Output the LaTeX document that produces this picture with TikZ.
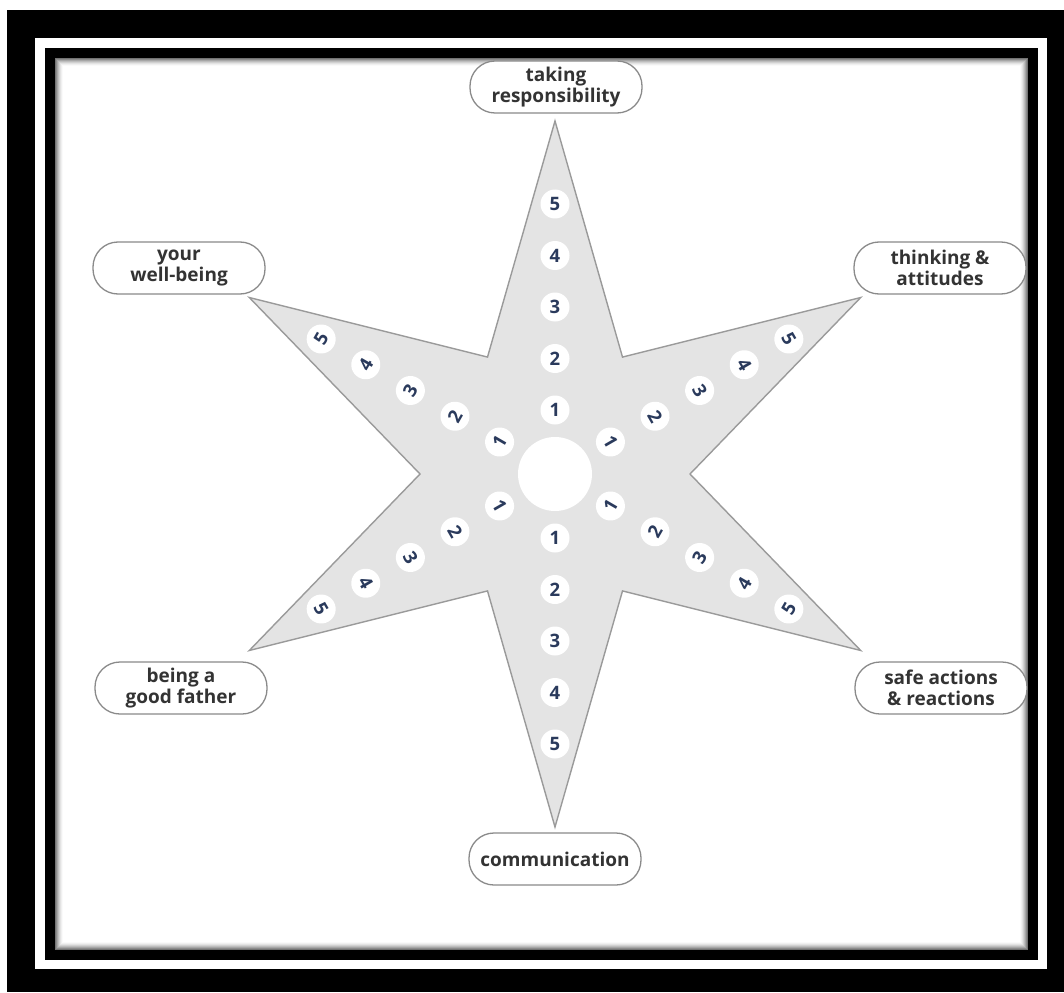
\documentclass[tikz,border=0pt]{standalone}
\usepackage{fontspec}
\setmainfont{Open Sans}
\usetikzlibrary{calc}
\definecolor{starfill}{HTML}{E4E4E4}
\definecolor{starline}{HTML}{9A9A9A}
\definecolor{pillline}{HTML}{8A8A8A}
\definecolor{labeltext}{HTML}{333333}
\definecolor{digitblue}{HTML}{2A3A5C}
\tikzset{
  pill/.style={draw=pillline, line width=1.3pt, fill=white, rounded corners=25pt,
    minimum width=172pt, minimum height=52pt, inner sep=0pt, align=center,
    text=labeltext, font=\fontsize{19}{20.5}\selectfont\bfseries},
  numc/.style={circle, fill=white, minimum size=29pt, inner sep=0pt,
    text=digitblue, font=\fontsize{18.5}{18.5}\selectfont\bfseries}
}
\begin{document}
\begin{tikzpicture}[x=1pt,y=1pt]
\useasboundingbox (0,0) rectangle (1064,-992);
% frame
\fill[white] (0,0) rectangle (1064,-992);
\fill[black] (7,-10) rectangle (1064,-992);
\fill[white] (35,-38) rectangle (1047,-969);
\fill[black] (45,-48) rectangle (1038,-960);
\fill[white] (55,-58) rectangle (1028,-950);
\foreach \i/\g in {0.5/45,1.5/55,2.5/65,3.5/74,4.5/82,5.5/89,6.5/94,7.5/98}{
  \draw[line width=1pt, black!\the\numexpr100-\g\relax] (55+\i,-58-\i) rectangle (1028-\i,-950+\i);
}
% star
\coordinate (C) at (555,-474);
\fill[starfill, draw=starline, line width=1.4pt, line join=miter]
  ($(C)+(90:353)$) -- ($(C)+(60:135)$) -- ($(C)+(30:353)$) -- ($(C)+(0:135)$)
  -- ($(C)+(-30:353)$) -- ($(C)+(-60:135)$) -- ($(C)+(-90:353)$) -- ($(C)+(-120:135)$)
  -- ($(C)+(-150:353)$) -- ($(C)+(180:135)$) -- ($(C)+(150:353)$) -- ($(C)+(120:135)$) -- cycle;
\node[circle, fill=white, minimum size=74pt, inner sep=0pt] (hub) at (C) {};
% digits
\foreach \a/\r in {90/0,150/60,30/-60,270/0,210/-60,330/60}{
  \foreach \n in {1,...,5}{
    \node[numc, rotate=\r] (d\a-\n) at ($(C)+(\a:{64+51.5*(\n-1)})$) {\n};
  }
}
% labels
\node[pill] (resp) at (556,-87) {taking\\responsibility};
\node[pill] (think) at (940,-268) {thinking \&\\attitudes};
\node[pill] (well) at (179,-268) {your\\well-being};
\node[pill] (father) at (181,-688) {being a\\good father};
\node[pill] (safe) at (941,-688) {safe actions\\\& reactions};
\node[pill] (comm) at (555,-859) {communication};
\end{tikzpicture}
\end{document}
